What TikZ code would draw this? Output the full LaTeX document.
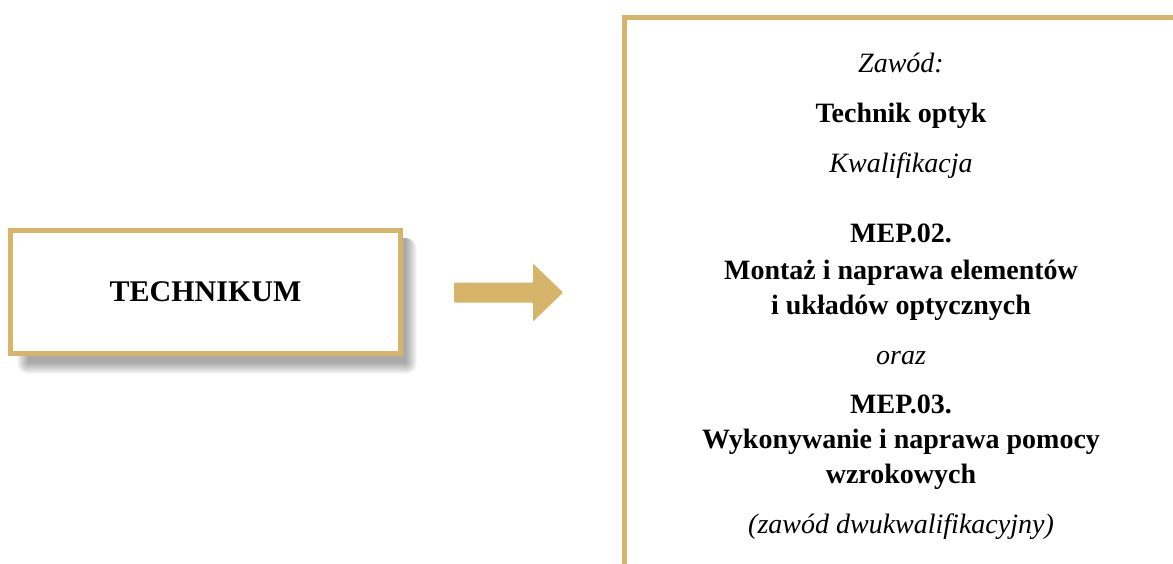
\documentclass[tikz,border=0pt]{standalone}
\usepackage{fontspec}
\setmainfont{Liberation Serif}
\usetikzlibrary{backgrounds}
\definecolor{gold}{RGB}{214,180,106}
\begin{document}
\begin{tikzpicture}[x=1pt,y=-1pt,
  frame/.style={draw=gold, line width=5pt, fill=white},
  shadowstep/.style={fill=black, opacity=0.03},
  lbl/.style={anchor=base, inner sep=0pt},
  bf/.style={lbl, font=\bfseries\fontsize{28}{33}\selectfont},
  it/.style={lbl, font=\itshape\fontsize{28}{33}\selectfont}]
\useasboundingbox (0,0) rectangle (1173,563);
\clip (0,0) rectangle (1173,563);
% left box
\node[frame, minimum width=390pt, minimum height=123pt,
  font=\bfseries\fontsize{30}{36}\selectfont] (tech) at (205.5,292) {TECHNIKUM};
\begin{pgfonlayer}{background}
\fill[white] (0,0) rectangle (1173,563);
\foreach \r in {0,1,...,11}{
  \fill[shadowstep, rounded corners=\r pt]
    ([xshift=20pt-\r pt, yshift=-7pt-\r pt]tech.south west) rectangle
    ([xshift=3pt+\r pt, yshift=-10pt]tech.north east);
}
\end{pgfonlayer}
% arrow
\coordinate (arr) at (454,292);
\fill[gold, rounded corners=1pt] (arr) ++(0,-9.5) -- ++(79,0) -- ++(0,-19) -- ++(30,29) -- ++(-30,29) -- ++(0,-19) -- ++(-79,0) -- cycle;
% right box
\node[frame, anchor=north west, minimum width=600pt, minimum height=620pt] (kw) at (621.5,14.5) {};
% texts
\def\cx{901}
\node[it] (t1) at (\cx,72) {Zawód:};
\node[bf] (t2) at (\cx,122) {Technik optyk};
\node[it] (t3) at (\cx,172) {Kwalifikacja};
\node[bf] (t4) at (\cx,242) {MEP.02.};
\node[bf] (t5) at (\cx,279) {Montaż i naprawa elementów};
\node[bf] (t6) at (\cx,314) {i układów optycznych};
\node[it] (t7) at (\cx,364) {oraz};
\node[bf] (t8) at (\cx,413) {MEP.03.};
\node[bf] (t9) at (\cx,448) {Wykonywanie i naprawa pomocy};
\node[bf] (t10) at (\cx,483) {wzrokowych};
\node[it] (t11) at (\cx,533) {(zawód dwukwalifikacyjny)};
\end{tikzpicture}
\end{document}
